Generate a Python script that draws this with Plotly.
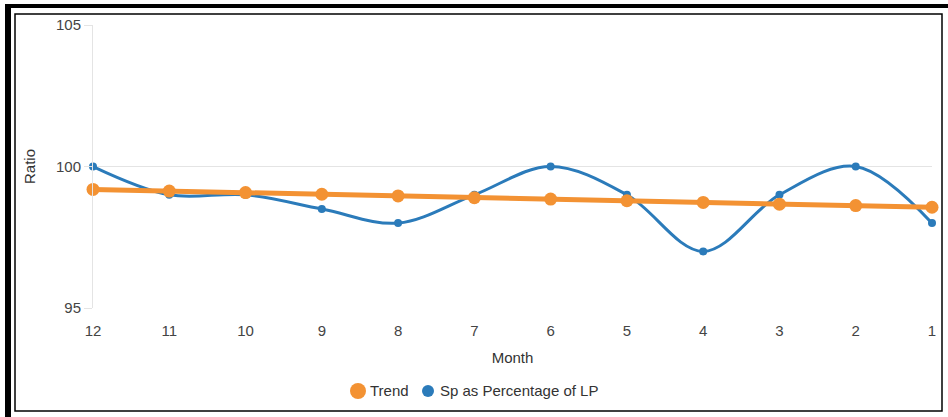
import plotly.graph_objects as go

# Months counted down from 12 to 1
months = ["12", "11", "10", "9", "8", "7", "6", "5", "4", "3", "2", "1"]
# Selling price as a percentage of list price
sp_pct_lp = [100, 99, 99, 98.5, 98, 99, 100, 99, 97, 99, 100, 98]
# Linear trend through the monthly ratios
trend = [99.19, 99.13, 99.08, 99.02, 98.96, 98.90, 98.85, 98.79, 98.73, 98.67, 98.62, 98.56]
y_ticks = [95, 100, 105]

W, H = 948, 417
L, R, T, B = 93, 16, 25, 109
PW, PH = W - L - R, H - T - B

BLUE = "#2b7bba"
ORANGE = "#f39233"
FONT = "Liberation Sans, Arial, sans-serif"


def px(x):
    return (x - L) / PW


def py(y):
    return (H - B - y) / PH


fig = go.Figure()

fig.add_trace(go.Scatter(
    x=months, y=sp_pct_lp, mode="lines+markers", name="Sp as Percentage of LP",
    line=dict(color=BLUE, width=3, shape="spline", smoothing=1.0),
    marker=dict(color=BLUE, size=8), cliponaxis=False, showlegend=False,
))
fig.add_trace(go.Scatter(
    x=months, y=trend, mode="lines+markers", name="Trend",
    line=dict(color=ORANGE, width=5),
    marker=dict(color=ORANGE, size=13), cliponaxis=False, showlegend=False,
))

# Frame around the chart
shapes = [
    dict(type="rect", xref="paper", yref="paper", x0=px(5), x1=px(948), y0=py(4), y1=py(8),
         fillcolor="black", line=dict(width=0), layer="above"),
    dict(type="rect", xref="paper", yref="paper", x0=px(5), x1=px(11), y0=py(4), y1=py(417),
         fillcolor="black", line=dict(width=0), layer="above"),
    dict(type="rect", xref="paper", yref="paper", x0=px(15), x1=px(942), y0=py(14), y1=py(411),
         line=dict(color="black", width=1.5), fillcolor="rgba(0,0,0,0)", layer="above"),
]

# Legend: circle swatches followed by their labels
legend_items = [("Trend", ORANGE, 358, 16), ("Sp as Percentage of LP", BLUE, 428, 12)]
annotations = []
for label, color, cx, d in legend_items:
    shapes.append(dict(
        type="circle", xref="paper", yref="paper", xsizemode="pixel", ysizemode="pixel",
        xanchor=px(cx), yanchor=py(391), x0=-d / 2, x1=d / 2, y0=-d / 2, y1=d / 2,
        fillcolor=color, line=dict(width=0),
    ))
    annotations.append(dict(
        text=label, xref="paper", yref="paper", x=px(cx + 10), y=py(391),
        xanchor="left", yanchor="middle", showarrow=False,
        font=dict(size=15, color="#333"),
    ))

fig.update_layout(
    width=W, height=H,
    margin=dict(l=L, r=R, t=T, b=B),
    paper_bgcolor="white", plot_bgcolor="white",
    font=dict(family=FONT, size=15, color="#444"),
    shapes=shapes, annotations=annotations,
    showlegend=False,
    xaxis=dict(
        type="category", categoryorder="array", categoryarray=months,
        range=[0, len(months) - 1], showgrid=False, zeroline=False,
        showline=False, ticks="outside", ticklen=9, tickcolor="rgba(0,0,0,0)",
        tickfont=dict(size=15, color="#444"),
        title=dict(text="Month", font=dict(size=15, color="#333"), standoff=14),
    ),
    yaxis=dict(
        range=[95, 105], tickvals=y_ticks, showgrid=True, gridcolor="#e4e4e4", gridwidth=1,
        zeroline=False, showline=True, linecolor="#e4e4e4", linewidth=1,
        ticks="outside", ticklen=8, tickcolor="#e4e4e4",
        tickfont=dict(size=15, color="#444"),
        title=dict(text="Ratio", font=dict(size=15, color="#333"), standoff=16),
    ),
)

fig.write_html("out.html")
